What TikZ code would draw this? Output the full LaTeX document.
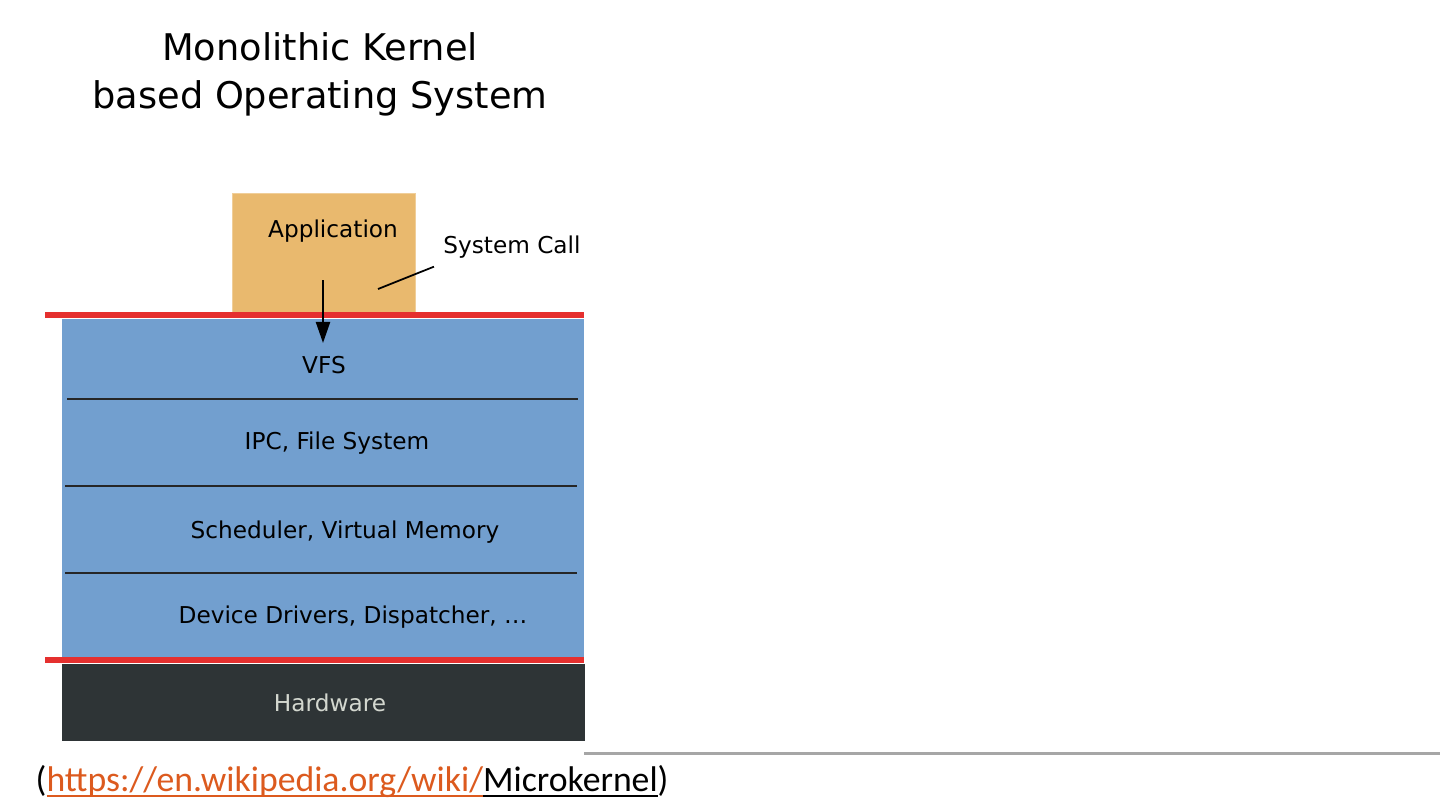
\documentclass[tikz,border=0pt]{standalone}
\usepackage{fontspec}
\setmainfont{DejaVu Sans}
\newfontfamily\capfont{Carlito}
\usepackage{tikz}
\usetikzlibrary{arrows.meta, positioning, calc}

\definecolor{appfill}{HTML}{E9B96E}
\definecolor{kernelblue}{HTML}{729FCF}
\definecolor{hwdark}{HTML}{2E3436}
\definecolor{hwtext}{HTML}{D3D7CF}
\definecolor{modered}{HTML}{E5302F}
\definecolor{linkorange}{HTML}{DC5A1E}
\definecolor{rulegray}{HTML}{A6A6A6}

\begin{document}
\begin{tikzpicture}[
      x=0.01cm, y=-0.01cm,
      font=\fontsize{6.6}{8}\selectfont,
      block/.style = {rectangle, inner sep=0pt, anchor=north west},
      % --- Estilos ---
      appbox/.style = {block, fill=appfill, draw=appfill!70!white, line width=0.3pt, minimum width=1.83cm, minimum height=1.20cm},
      kernelbox/.style = {block, fill=kernelblue, minimum width=5.22cm, minimum height=3.40cm},
      hwbox/.style = {block, fill=hwdark, minimum width=5.23cm, minimum height=0.77cm},
      layer/.style = {text=black},
      sep/.style = {line width=0.45pt, black!85},
      modeline/.style = {line width=1.5pt, modered},
      arrow/.style = {line width=0.6pt, -{Triangle[length=6pt, width=4pt]}}
    ]
      \useasboundingbox (0,0) rectangle (1440,811);

      % --- Titulo ---
      \node[align=center, font=\fontsize{10.45}{13.7}\selectfont] (title) at (320,74) {Monolithic Kernel\\based Operating System};

      % --- Blocos ---
      \node[appbox] (app) at (232,193) {};
      \node[layer] (applabel) at (333,231) {Application};

      \node[kernelbox] (kernel) at (61,318) {};
      \node[hwbox] (hw) at (61,663) {};
      \node[text=hwtext] (hwlabel) at (330,703) {Hardware};

      % Camadas do kernel
      \node[layer] (vfs) at (324,365) {VFS};
      \node[layer] (ipc) at (337,443) {IPC, File System};
      \node[layer] (sched) at (345,532) {Scheduler, Virtual Memory};
      \node[layer] (drv) at (353,617) {Device Drivers, Dispatcher, \dots};

      \draw[sep] (67,399) -- (578,399);
      \draw[sep] (65,486) -- (577,486);
      \draw[sep] (65,573) -- (577,573);

      % Fronteiras de modo
      \draw[modeline] (45,315) -- (584,315);
      \draw[modeline] (45,660) -- (584,660);

      % System call
      \coordinate (callsrc) at (323,280);
      \coordinate (calltip) at (323,343);
      \draw[arrow] (callsrc) -- (calltip);

      \node[layer] (syscall) at (512,247) {System Call};
      \coordinate (callpt) at (378,289);
      \draw[line width=0.5pt] ($(syscall.south west)+(3,-4)$) -- (callpt);

      % --- Rodape ---
      \draw[rulegray, line width=0.85pt] (584,753) -- (1440,753);
      \node[anchor=base west, inner sep=0pt, font=\capfont\fontsize{10.15}{12}\selectfont] (source) at (35,791)
        {({\color{linkorange}\underline{\smash{https://en.wikipedia.org/wiki/}}}\underline{\smash{Microkernel}})};

    \end{tikzpicture}
\end{document}
